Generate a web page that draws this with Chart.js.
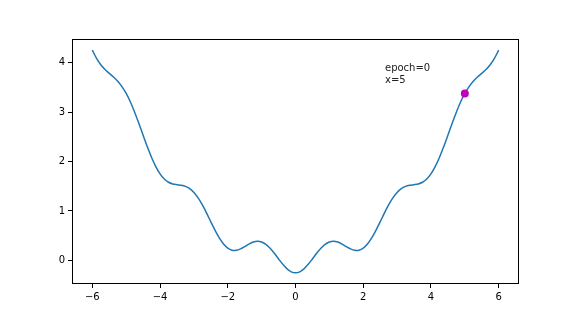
<!DOCTYPE html>
<html>
<head>
<meta charset="utf-8">
<script src="https://cdn.jsdelivr.net/npm/chart.js@4"></script>
<style>
  body { margin: 0; background: #ffffff; }
</style>
</head>
<body>
<canvas id="chart" width="576" height="324"></canvas>
<script>
// curve values, x step 0.125 from -6 to 6
var xValues = [-6, -5.875, -5.75, -5.625, -5.5, -5.375, -5.25, -5.125, -5, -4.875, -4.75, -4.625, -4.5, -4.375, -4.25, -4.125,
               -4, -3.875, -3.75, -3.625, -3.5, -3.375, -3.25, -3.125, -3, -2.875, -2.75, -2.625, -2.5, -2.375, -2.25, -2.125,
               -2, -1.875, -1.75, -1.625, -1.5, -1.375, -1.25, -1.125, -1, -0.875, -0.75, -0.625, -0.5, -0.375, -0.25, -0.125,
               0, 0.125, 0.25, 0.375, 0.5, 0.625, 0.75, 0.875, 1, 1.125, 1.25, 1.375, 1.5, 1.625, 1.75, 1.875,
               2, 2.125, 2.25, 2.375, 2.5, 2.625, 2.75, 2.875, 3, 3.125, 3.25, 3.375, 3.5, 3.625, 3.75, 3.875,
               4, 4.125, 4.25, 4.375, 4.5, 4.625, 4.75, 4.875, 5, 5.125, 5.25, 5.375, 5.5, 5.625, 5.75, 5.875, 6];
var yValues = [4.25, 4.084, 3.956, 3.859, 3.781, 3.707, 3.622, 3.514, 3.375, 3.202, 2.997, 2.769, 2.531, 2.297, 2.081, 1.896,
               1.75, 1.646, 1.581, 1.547, 1.531, 1.519, 1.497, 1.452, 1.375, 1.264, 1.122, 0.957, 0.781, 0.609, 0.456, 0.333,
               0.25, 0.208, 0.206, 0.234, 0.281, 0.332, 0.372, 0.389, 0.375, 0.327, 0.247, 0.145, 0.031, -0.078, -0.169, -0.229,
               -0.25, -0.229, -0.169, -0.078, 0.031, 0.145, 0.247, 0.327, 0.375, 0.389, 0.372, 0.332, 0.281, 0.234, 0.206, 0.208,
               0.25, 0.333, 0.456, 0.609, 0.781, 0.957, 1.122, 1.264, 1.375, 1.452, 1.497, 1.519, 1.531, 1.547, 1.581, 1.646,
               1.75, 1.896, 2.081, 2.297, 2.531, 2.769, 2.997, 3.202, 3.375, 3.514, 3.622, 3.707, 3.781, 3.859, 3.956, 4.084, 4.25];
var markerX = [5];
var markerY = [3.375];
var xTicks = [-6, -4, -2, 0, 2, 4, 6];
var yTicks = [0, 1, 2, 3, 4];
var noteLines = ['epoch=0', 'x=5'];

var curve = xValues.map((x, i) => ({ x: x, y: yValues[i] }));
var marker = markerX.map((x, i) => ({ x: x, y: markerY[i] }));

function fmt(v) {
    return v < 0 ? '\u2212' + Math.abs(v) : String(v);
}

var framePlugin = {
    id: 'frame',
    afterDatasetsDraw: function(chart) {
        var ctx = chart.ctx, a = chart.chartArea;
        ctx.save();
        ctx.strokeStyle = '#000000';
        ctx.lineWidth = 1;
        ctx.strokeRect(Math.round(a.left) + 0.5, Math.round(a.top) + 0.5,
                       Math.round(a.right - a.left) - 1, Math.round(a.bottom - a.top) - 1);
        // annotation text
        ctx.fillStyle = '#222222';
        ctx.font = '10px "DejaVu Sans"';
        ctx.textBaseline = 'alphabetic';
        ctx.textAlign = 'left';
        ctx.fillText(noteLines[0], 385, 71);
        ctx.fillText(noteLines[1], 385, 83);
        ctx.restore();
    }
};

var ctx = document.getElementById('chart').getContext('2d');
var chart = new Chart(ctx, {
    type: 'line',
    data: {
        datasets: [
            {
                data: marker,
                showLine: false,
                pointRadius: 4,
                pointBackgroundColor: '#bf00bf',
                pointBorderColor: '#bf00bf',
                borderWidth: 0
            },
            {
                data: curve,
                borderColor: '#1f77b4',
                borderWidth: 1.5,
                pointRadius: 0,
                fill: false,
                tension: 0.3
            }
        ]
    },
    options: {
        responsive: false,
        animation: false,
        layout: { padding: { left: 0, right: 57, top: 39, bottom: 0 } },
        plugins: { legend: { display: false }, tooltip: { enabled: false } },
        scales: {
            x: {
                type: 'linear',
                min: -6.6,
                max: 6.6,
                afterBuildTicks: function(scale) { scale.ticks = xTicks.map(v => ({ value: v })); },
                afterFit: function(scale) { scale.height = 40; },
                grid: { drawOnChartArea: false, tickLength: 4, tickColor: '#000000', tickWidth: 1 },
                border: { display: false },
                ticks: {
                    color: '#000000',
                    padding: 3,
                    maxRotation: 0,
                    font: { family: 'DejaVu Sans', size: 10 },
                    callback: function(v) { return fmt(v); }
                }
            },
            y: {
                min: -0.475,
                max: 4.475,
                afterBuildTicks: function(scale) { scale.ticks = yTicks.map(v => ({ value: v })); },
                afterFit: function(scale) { scale.width = 72; },
                grid: { drawOnChartArea: false, tickLength: 4, tickColor: '#000000', tickWidth: 1 },
                border: { display: false },
                ticks: {
                    color: '#000000',
                    padding: 3,
                    font: { family: 'DejaVu Sans', size: 10 },
                    callback: function(v) { return fmt(v); }
                }
            }
        }
    },
    plugins: [framePlugin]
});
</script>
</body>
</html>
